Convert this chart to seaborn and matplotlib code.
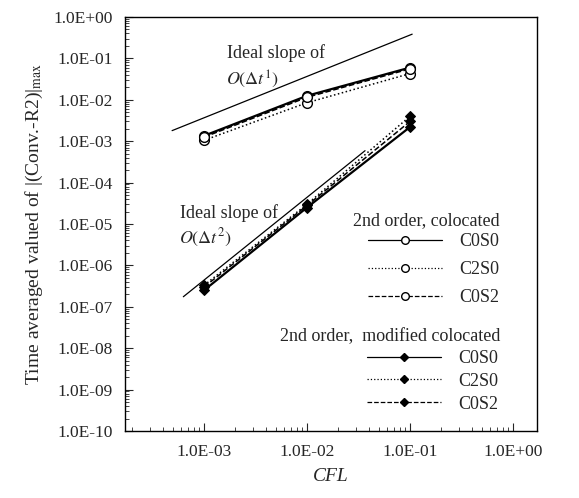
import numpy as np
import pandas as pd
import seaborn as sns
import matplotlib
matplotlib.use("Agg")
import matplotlib.pyplot as plt
from matplotlib.lines import Line2D
from matplotlib.ticker import LogLocator, FuncFormatter, NullFormatter

# ---- data ----
cfl = [1e-3, 1e-2, 1e-1]
series_names = ["C0S0", "C2S0", "C0S2"]
coloc_C0S0 = [1.35e-3, 1.25e-2, 6.0e-2]
coloc_C2S0 = [1.05e-3, 8.5e-3, 4.3e-2]
coloc_C0S2 = [1.25e-3, 1.15e-2, 5.6e-2]
mod_C0S0 = [2.5e-7, 2.5e-5, 2.2e-3]
mod_C2S0 = [3.3e-7, 3.0e-5, 4.0e-3]
mod_C0S2 = [3.0e-7, 2.8e-5, 3.0e-3]
slope1_x = [4.9e-4, 0.105]
slope1_y = [1.8e-3, 0.385]
slope2_x = [6.3e-4, 3.66e-2]
slope2_y = [1.75e-7, 5.9e-4]
x_ticks = [1e-3, 1e-2, 1e-1, 1e0]
y_ticks = [10.0 ** k for k in range(0, -11, -1)]

sns.set_style("ticks")
plt.rcParams["font.family"] = ["Liberation Serif", "DejaVu Serif"]
plt.rcParams["mathtext.fontset"] = "stix"

fig = plt.figure(figsize=(5.79, 4.98), dpi=100)
ax = fig.add_axes([125 / 579, 1 - 431 / 498, 412 / 579, 414 / 498])

styles = {"C0S0": "-", "C2S0": ":", "C0S2": "--"}
lws = {"C0S0": 1.6, "C2S0": 1.1, "C0S2": 1.1}
coloc = {"C0S0": coloc_C0S0, "C2S0": coloc_C2S0, "C0S2": coloc_C0S2}
mod = {"C0S0": mod_C0S0, "C2S0": mod_C2S0, "C0S2": mod_C0S2}

for name in series_names:
    df = pd.DataFrame({"x": cfl, "y": coloc[name]})
    sns.lineplot(data=df, x="x", y="y", ax=ax, color="black", linestyle=styles[name],
                 lw=lws[name], marker="o", markersize=7, markerfacecolor="white",
                 markeredgecolor="black", markeredgewidth=1.0)
for name in series_names:
    df = pd.DataFrame({"x": cfl, "y": mod[name]})
    sns.lineplot(data=df, x="x", y="y", ax=ax, color="black", linestyle=styles[name],
                 lw=lws[name], marker="D", markersize=5.5, markerfacecolor="black",
                 markeredgecolor="black")

sns.lineplot(x=slope1_x, y=slope1_y, ax=ax, color="black", lw=0.9)
sns.lineplot(x=slope2_x, y=slope2_y, ax=ax, color="black", lw=0.9)

ax.set_xscale("log")
ax.set_yscale("log")
ax.set_xlim(1.71e-4, 1.71)
ax.set_ylim(1e-10, 1.0)

fmt = FuncFormatter(lambda v, p: f"{v:.1E}")
ax.set_xticks(x_ticks)
ax.set_yticks(y_ticks)
ax.xaxis.set_major_formatter(fmt)
ax.yaxis.set_major_formatter(fmt)
ax.xaxis.set_minor_locator(LogLocator(base=10, subs=np.arange(2, 10), numticks=20))
ax.yaxis.set_minor_locator(LogLocator(base=10, subs=np.arange(2, 10), numticks=20))
ax.xaxis.set_minor_formatter(NullFormatter())
ax.yaxis.set_minor_formatter(NullFormatter())
ax.tick_params(axis="both", which="both", direction="in", top=False, right=False)
ax.tick_params(axis="both", which="major", length=6, width=0.8, labelsize=12.5, pad=9)
ax.tick_params(axis="both", which="minor", length=3, width=0.6)
for s in ax.spines.values():
    s.set_linewidth(1.0)
    s.set_color("black")

ax.set_xlabel("CFL", fontsize=14, style="italic", labelpad=6)
ax.set_ylabel(r"Time averaged valued of |(Conv.-R2)|$_{\rm max}$", fontsize=14, labelpad=6)

# annotations
fig.text(227 / 579, 1 - 53 / 498, "Ideal slope of", fontsize=13, va="center", ha="left")
fig.text(226 / 579, 1 - 79 / 498, r"$O(\Delta t^1)$", fontsize=13, va="center", ha="left")
fig.text(180 / 579, 1 - 213 / 498, "Ideal slope of", fontsize=13, va="center", ha="left")
fig.text(179 / 579, 1 - 238 / 498, r"$O(\Delta t^2)$", fontsize=13, va="center", ha="left")

# legend titles
fig.text(426 / 579, 1 - 221 / 498, "2nd order, colocated", fontsize=13, va="center", ha="center")
fig.text(390 / 579, 1 - 337 / 498, "2nd order,  modified colocated", fontsize=13,
         va="center", ha="center")

# legends
h1 = [Line2D([], [], color="black", linestyle=styles[n], lw=0.9, marker="o", markersize=5.5,
             markerfacecolor="white", markeredgecolor="black") for n in series_names]
h2 = [Line2D([], [], color="black", linestyle=styles[n], lw=0.9, marker="D", markersize=4.5,
             markerfacecolor="black", markeredgecolor="black") for n in series_names]
common = dict(frameon=False, fontsize=13, handlelength=4.1,
              handletextpad=0.95, borderpad=0.0, borderaxespad=0.0,
              loc="upper left", bbox_transform=fig.transFigure)
leg1 = ax.legend(h1, series_names, labelspacing=0.62,
                 bbox_to_anchor=(368 / 579, 1 - 233 / 498), **common)
ax.add_artist(leg1)
leg2 = ax.legend(h2, series_names, labelspacing=0.32,
                 bbox_to_anchor=(367 / 579, 1 - 350 / 498), **common)

fig.savefig("out.png", dpi=100)
